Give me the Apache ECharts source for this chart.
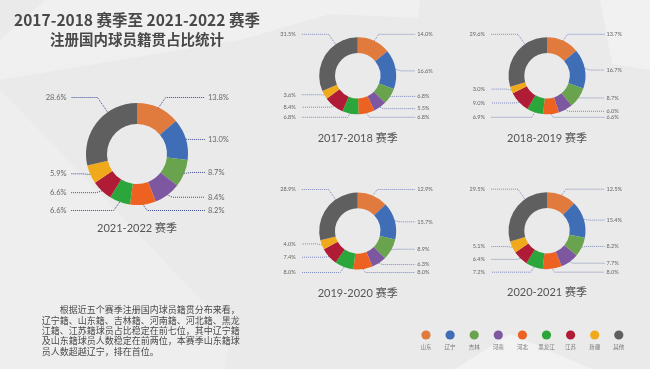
<!DOCTYPE html>
<html><head><meta charset="utf-8">
<script src="https://cdn.jsdelivr.net/npm/echarts@6/dist/echarts.min.js"></script>
<style>html,body{margin:0;padding:0;background:#eaeaea}#c{width:650px;height:369px}</style>
</head><body><div id="c"></div>
<script>
// ---------- data ----------
const categories = ['山东','辽宁','吉林','河南','河北','黑龙江','江苏','新疆','其他'];
const colors = ['#E17A3D','#3F6DB6','#6AA34E','#7D58A0','#EE6221','#2AA63A','#B01B36','#F0A91A','#5F5F5F'];
const seasons = ['2017-2018 赛季','2018-2019 赛季','2019-2020 赛季','2020-2021 赛季','2021-2022 赛季'];
const v2017 = [14.0,16.6,6.8,5.5,6.8,6.8,8.4,3.6,31.5];
const v2018 = [13.7,16.7,8.7,6.0,6.6,6.9,9.0,3.0,29.6];
const v2019 = [12.9,15.7,8.9,6.3,8.0,8.0,7.4,4.0,28.9];
const v2020 = [12.5,15.4,8.2,7.7,8.0,7.2,6.4,5.1,29.5];
const v2021 = [13.8,13.0,8.7,8.4,8.2,6.6,6.6,5.9,28.6];
const mainTitle1 = '2017-2018 赛季至 2021-2022 赛季';
const mainTitle2 = '注册国内球员籍贯占比统计';
const noteLines = [
  '\u3000\u3000根据近五个赛季注册国内球员籍贯分布来看，',
  '辽宁籍、山东籍、吉林籍、河南籍、河北籍、黑龙',
  '江籍、江苏籍球员占比稳定在前七位，其中辽宁籍',
  '及山东籍球员人数稳定在前两位，本赛季山东籍球',
  '员人数超越辽宁，排在首位。'
];

// ---------- layout ----------
const big = {R:51, r:30, k:5.5, len:8, len2:10, offR:68, offL:66, gapR:3, gapL:4.5, fs:7.5, lw:1, lc:'#3d4c94', shDown:4, shUp:2.5, minGap:9};
const small = {R:38.5, r:22.7, k:3, len:5.5, len2:8, offR:57.5, offL:56, gapR:2, gapL:6, fs:5.6, lw:0.8, lc:'#6272b4', shDown:3, shUp:2.5, minGap:6};
const panels = [
  Object.assign({vals:v2021, name:seasons[4], cx:137, cy:154, titleY:230}, big),
  Object.assign({vals:v2017, name:seasons[0], cx:357.7, cy:75.8, titleY:140}, small),
  Object.assign({vals:v2018, name:seasons[1], cx:547, cy:75.8, titleY:140}, small),
  Object.assign({vals:v2019, name:seasons[2], cx:357.7, cy:231, titleY:295}, small),
  Object.assign({vals:v2020, name:seasons[3], cx:547, cy:230.7, titleY:294.5}, small)
];

function makeLayout(p) {
  const vals = p.vals;
  const total = vals.reduce((a, b) => a + b, 0);
  const mids = [];
  let acc = 0;
  vals.forEach(v => { mids.push((acc + v / 2) / total * 2 * Math.PI); acc += v; });
  let lastRight = -1, firstLeft = -1;
  mids.forEach((m, i) => { if (m < Math.PI) lastRight = i; else if (firstLeft < 0) firstLeft = i; });
  const last = vals.length - 1;
  const topY = p.cy - (p.R + p.k), botY = p.cy + (p.R + p.k);
  // label rows
  const ys = mids.map(m => {
    const c = Math.cos(m);
    return p.cy - (p.R + p.len) * c + (c < 0 ? -p.shDown : p.shUp);
  });
  ys[0] = topY; ys[last] = topY; ys[lastRight] = botY; ys[firstLeft] = botY;
  for (let j = lastRight - 1; j >= 1; j--) ys[j] = Math.min(ys[j], ys[j + 1] - p.minGap);
  for (let j = 1; j < lastRight; j++) ys[j] = Math.max(ys[j], ys[j - 1] + p.minGap);
  for (let j = firstLeft + 1; j < last; j++) ys[j] = Math.min(ys[j], ys[j - 1] - p.minGap);
  for (let j = last - 1; j > firstLeft; j--) ys[j] = Math.max(ys[j], ys[j + 1] + p.minGap);

  return function (params) {
    const i = params.dataIndex;
    const m = mids[i];
    const dir = m < Math.PI ? 1 : -1;
    const y = ys[i];
    let a0 = (i === last) ? -35 * Math.PI / 180 : m;
    const p0 = [p.cx + p.R * Math.sin(a0), p.cy - p.R * Math.cos(a0)];
    const special = (i === 0 || i === last || i === lastRight || i === firstLeft);
    const p1 = special
      ? [p0[0] + dir * Math.abs(p0[1] - y) * 0.7, y]
      : [p.cx + (p.R + p.len) * Math.sin(m), y];
    const endX = p.cx + dir * (dir > 0 ? p.offR : p.offL);
    return {
      x: endX + dir * (dir > 0 ? p.gapR : p.gapL),
      y: y,
      align: dir > 0 ? 'left' : 'right',
      verticalAlign: 'middle',
      labelLinePoints: [p0, p1, [endX, y]]
    };
  };
}

const series = panels.map(p => ({
  type: 'pie',
  center: [p.cx, p.cy],
  radius: [p.r, p.R],
  startAngle: 90,
  clockwise: true,
  avoidLabelOverlap: true,
  silent: true,
  data: categories.map((n, i) => ({name: n, value: p.vals[i]})),
  label: {
    show: true,
    position: 'outside',
    formatter: (d) => d.value.toFixed(1) + '%',
    fontSize: p.fs,
    color: '#666',
    fontFamily: 'Lato, "Noto Sans CJK SC"'
  },
  labelLine: {
    show: true, length: p.len, length2: p.len2, smooth: false,
    lineStyle: {color: p.lc, width: p.lw, type: [1, 1]}
  },
  labelLayout: makeLayout(p),
  itemStyle: {borderWidth: 0}
}));

const titleFont = '"Noto Sans CJK SC", "Noto Sans", sans-serif';
const titles = [
  {text: mainTitle1, left: 137, top: 12, textAlign: 'center', padding: 0,
   textStyle: {fontSize: 15.5, fontWeight: 'bold', color: '#484848', fontFamily: titleFont}},
  {text: mainTitle2, left: 137, top: 32.5, textAlign: 'center', padding: 0,
   textStyle: {fontSize: 14.5, fontWeight: 'bold', color: '#484848', fontFamily: titleFont}}
].concat(panels.map(p => ({
  text: p.name, left: p.cx, top: p.titleY - 7.5, textAlign: 'center', padding: 0,
  textStyle: {fontSize: 11, fontWeight: 'normal', color: '#555', fontFamily: 'Lato, "Noto Sans CJK SC"'}
})));

// background shapes (decoration)
const bg = [
  {type: 'polygon', shape: {points: [[45,0],[420,0],[418,18],[330,14],[240,40],[0,80],[0,40]]}, style: {fill: '#f0f0f0'}},
  {type: 'polygon', shape: {points: [[0,89],[232,332],[224,369],[0,369]]}, style: {fill: '#eeeeee'}},
  {type: 'polygon', shape: {points: [[600,0],[650,0],[650,70],[612,64]]}, style: {fill: '#f1f1f1'}},
  {type: 'polygon', shape: {points: [[455,369],[510,334],[592,369]]}, style: {fill: '#f2f2f2'}}
].map(e => Object.assign(e, {z: -100, silent: true}));

const legendEls = [];
categories.forEach((c, i) => {
  const x = 426 + i * 24.1;
  legendEls.push({type: 'circle', shape: {cx: x, cy: 335, r: 4.6}, style: {fill: colors[i]}, silent: true});
  legendEls.push({type: 'text', x: x, y: 347, silent: true,
    style: {text: c, font: '5.5px "Noto Sans CJK SC"', fill: '#777', align: 'center', verticalAlign: 'middle'}});
});

const noteEl = {type: 'text', x: 41.7, y: 304.8, silent: true,
  style: {text: noteLines.join('\n'), font: '9px "Noto Sans CJK SC"', lineHeight: 10.3, fill: '#4a4a4a', align: 'left', verticalAlign: 'top'}};

const chart = echarts.init(document.getElementById('c'), null, {renderer: 'canvas'});
chart.setOption({
  animation: false,
  backgroundColor: '#eaeaea',
  color: colors,
  title: titles,
  graphic: {elements: bg.concat(legendEls, [noteEl])},
  series: series
});
</script>
</body></html>
